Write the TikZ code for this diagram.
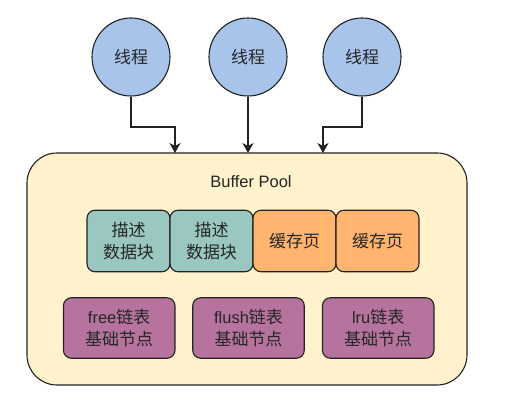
\documentclass[tikz,border=0pt]{standalone}
\usepackage{fontspec}
\setmainfont{Liberation Sans}
\newfontfamily\cjkf[Scale=1.03]{Noto Sans CJK SC}
\usetikzlibrary{arrows.meta}
\definecolor{threadblue}{HTML}{A9C4EB}
\definecolor{poolfill}{HTML}{FFF2CC}
\definecolor{descfill}{HTML}{9AC7BF}
\definecolor{pagefill}{HTML}{FFB570}
\definecolor{listfill}{HTML}{B5739D}
\definecolor{edge}{HTML}{222222}
\begin{document}
\begin{tikzpicture}[x=1pt,y=-1pt,
  every node/.style={font=\fontsize{16.5}{21.5}\selectfont, text=black!85, align=center},
  thread/.style={circle, draw=edge, line width=1.1pt, fill=threadblue, minimum size=78pt, inner sep=0pt},
  pool/.style={rectangle, rounded corners=30pt, draw=edge, line width=1.1pt, fill=poolfill, minimum width=440pt, minimum height=232pt, inner sep=0pt},
  cell/.style={rectangle, rounded corners=8pt, draw=edge, line width=1.1pt, minimum width=83pt, minimum height=61.5pt, inner sep=0pt},
  desc/.style={cell, fill=descfill},
  page/.style={cell, fill=pagefill},
  lnode/.style={cell, fill=listfill, minimum width=111.5pt, minimum height=60.5pt},
  arr/.style={draw=edge, line width=1.1pt, -{Stealth[length=10pt,width=11pt,inset=3pt]}}
]
\useasboundingbox (0,0) rectangle (506,404);
\node[pool] (pool) at (247,269) {};
\node (bp) at (251,182) {Buffer Pool};
\node[thread] (t1) at (131,57) {\cjkf 线程};
\node[thread] (t2) at (248,57) {\cjkf 线程};
\node[thread] (t3) at (362,57) {\cjkf 线程};
\coordinate (in1) at (175,153);
\coordinate (in2) at (248,153);
\coordinate (in3) at (323,153);
\draw[arr] (t1.south) |- (153,127) -| (in1);
\draw[arr] (t2.south) -- (in2);
\draw[arr] (t3.south) |- (342,127) -| (in3);
\node[desc] (d1) at (128.5,241) {\cjkf 描述\\\cjkf 数据块};
\node[desc] (d2) at (211.5,241) {\cjkf 描述\\\cjkf 数据块};
\node[page] (c1) at (294.5,241) {\cjkf 缓存页};
\node[page] (c2) at (377.5,241) {\cjkf 缓存页};
\node[lnode] (l1) at (119.2,328) {free{\cjkf 链表}\\\cjkf 基础节点};
\node[lnode] (l2) at (248.5,328) {flush{\cjkf 链表}\\\cjkf 基础节点};
\node[lnode] (l3) at (378.2,328) {lru{\cjkf 链表}\\\cjkf 基础节点};
\end{tikzpicture}
\end{document}
